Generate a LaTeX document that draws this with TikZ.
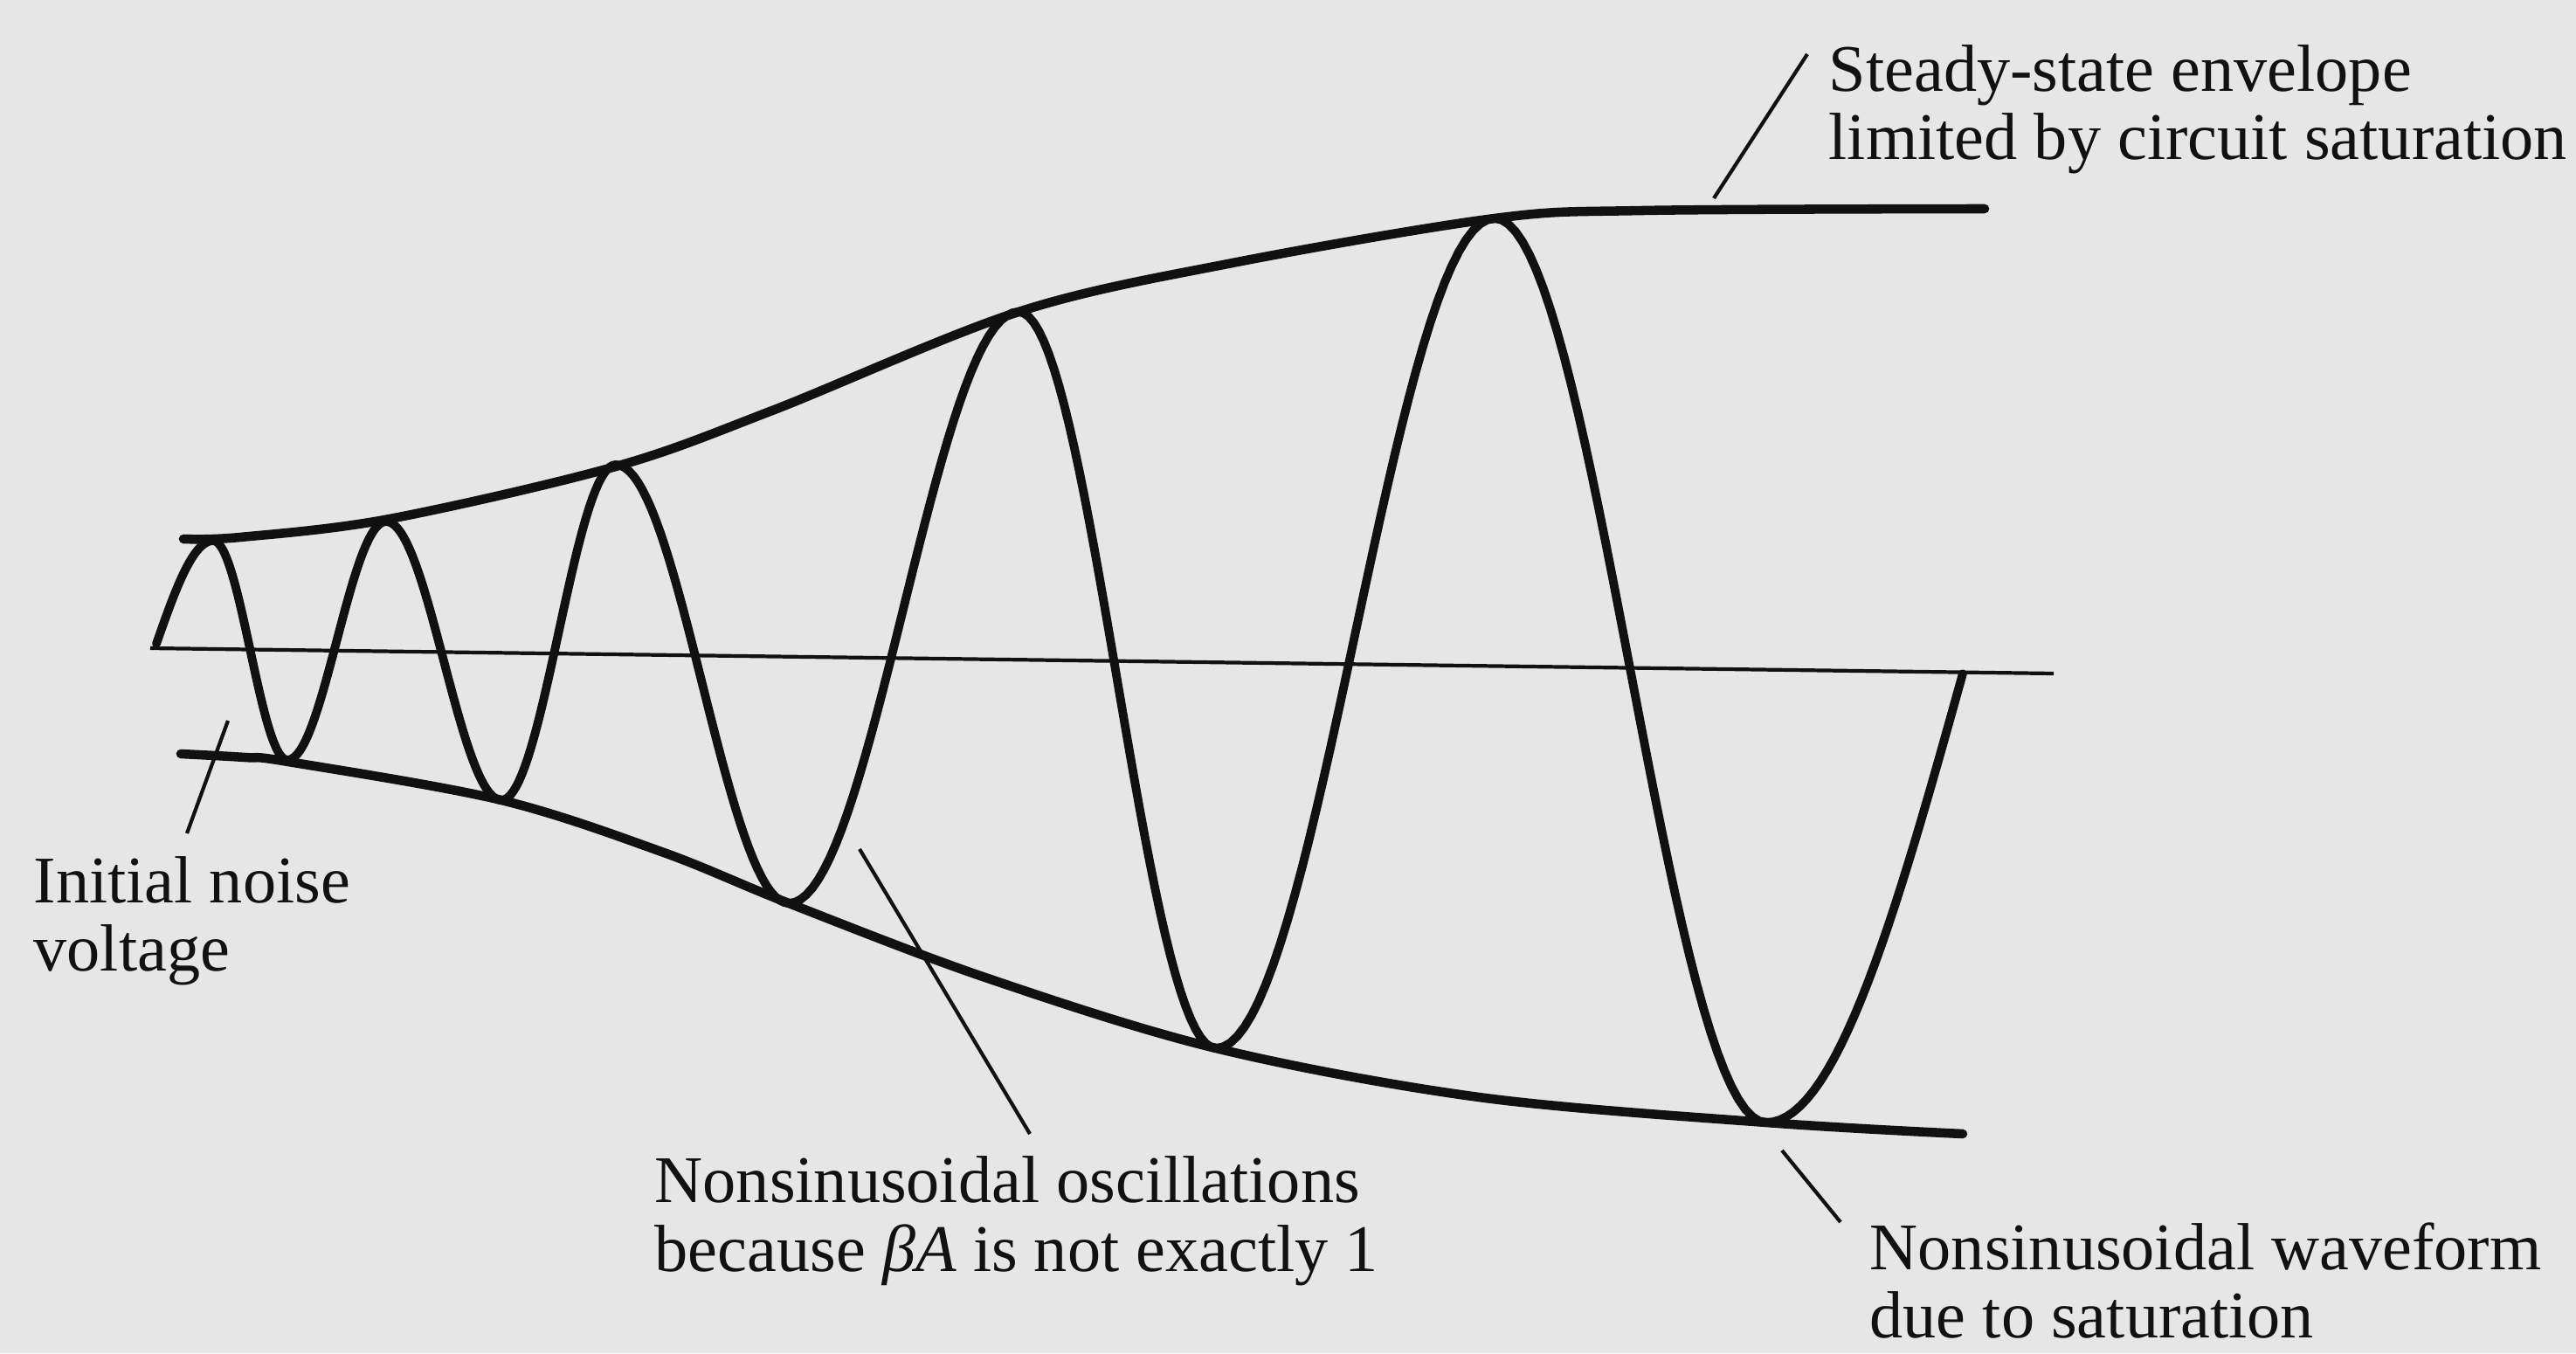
\documentclass[tikz,border=0pt]{standalone}
\usepackage{fontspec}
\setmainfont{LiberationSerif}[Extension=.ttf, UprightFont=*-Regular, ItalicFont=*-Italic, BoldFont=*-Bold]
\usepackage{tikz}
\definecolor{paper}{HTML}{E6E6E6}
\definecolor{ink}{HTML}{111111}
\tikzset{
  env/.style={draw=ink, line width=3pt, line cap=round},
  osc/.style={draw=ink, line width=2.8pt, line cap=round},
  axis/.style={draw=ink, line width=1.2pt},
  lead/.style={draw=ink, line width=1.2pt},
  lab/.style={align=left, inner sep=0pt, anchor=north west, text=ink, font=\fontsize{21.7pt}{22.3pt}\selectfont},
}
\begin{document}
\begin{tikzpicture}
  \fill[paper] (0,0) rectangle (29.49,15.49);
  \useasboundingbox (0,0) rectangle (29.49,15.49);
  % time axis
  \coordinate (ax0) at (1.72,8.07);
  \coordinate (ax1) at (23.51,7.78);
  \draw[axis] (ax0) -- (ax1);
  % envelopes
  \draw[env] plot[smooth, tension=0.55] coordinates {(2.10,9.32) (2.75,9.34) (4.46,9.55) (7.05,10.15) (8.84,10.79) (11.66,11.92) (14.11,12.48) (17.11,12.99) (18.81,13.08) (22.72,13.10)};
  \draw[env] plot[smooth, tension=0.55] coordinates {(2.07,6.86) (2.80,6.82) (3.30,6.77) (5.74,6.33) (7.60,5.73) (9.03,5.15) (11.28,4.30) (13.92,3.49) (16.93,2.93) (20.22,2.64) (22.47,2.51)};
  % growing oscillation, one half cycle at a time
  \draw[osc] plot[domain=0:1, samples=30] ({1.79+0.65*\x},{8.12+1.18*sin(90*\x)});
  \foreach \xa/\ya/\xb/\yb in {2.44/9.30/3.29/6.79, 3.29/6.79/4.42/9.52, 4.42/9.52/5.74/6.33,
      5.74/6.33/7.05/10.17, 7.05/10.17/9.03/5.15, 9.03/5.15/11.66/11.92,
      11.66/11.92/13.92/3.49, 13.92/3.49/17.11/12.99, 17.11/12.99/20.22/2.64}
    \draw[osc] plot[domain=0:1, samples=40] ({\xa+(\xb-\xa)*\x},{\ya+(\yb-\ya)*(1-cos(180*\x))/2});
  \draw[osc] plot[domain=0:1, samples=30] ({20.22+2.25*\x},{2.64+5.14*(1-cos(90*\x))});
  % labels
  \node[lab] (ini) at (0.38,5.69) {Initial noise\\voltage};
  \node[lab] (steady) at (20.93,14.98) {Steady-state envelope\\limited by circuit saturation};
  \node[lab] (nsosc) at (7.49,2.26) {Nonsinusoidal oscillations\\because \textit{βA} is not exactly 1};
  \node[lab] (nswav) at (21.40,1.50) {Nonsinusoidal waveform\\due to saturation};
  % leaders
  \coordinate (noise) at (2.61,7.24);
  \coordinate (initip) at (2.14,5.95);
  \coordinate (sat) at (19.62,13.22);
  \coordinate (steadytip) at (20.69,14.87);
  \coordinate (bump) at (9.84,5.77);
  \coordinate (nsosctip) at (11.79,2.51);
  \coordinate (clip) at (20.40,2.32);
  \coordinate (nswavtip) at (21.07,1.50);
  \draw[lead] (noise) -- (initip);
  \draw[lead] (sat) -- (steadytip);
  \draw[lead] (bump) -- (nsosctip);
  \draw[lead] (clip) -- (nswavtip);
\end{tikzpicture}
\end{document}
